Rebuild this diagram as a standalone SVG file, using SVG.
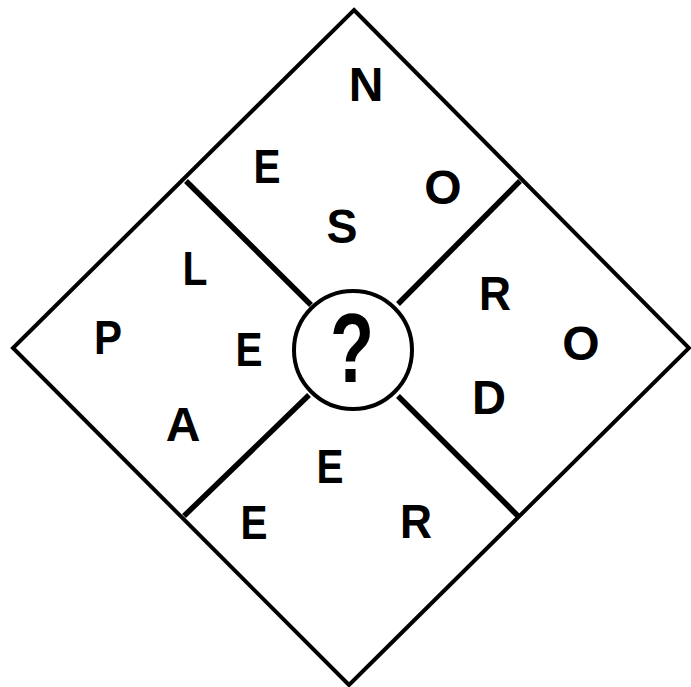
<svg xmlns="http://www.w3.org/2000/svg" width="691" height="687" viewBox="0 0 691 687">
<style>
.frame{fill:none;stroke:#000;stroke-width:4;stroke-linejoin:miter}
.div{stroke:#000;stroke-width:5.5;stroke-linecap:butt}
.ltr{font-family:"Liberation Sans",Arial,sans-serif;font-weight:bold;font-size:48px;fill:#000;text-anchor:middle}
.q{font-family:"Liberation Sans",Arial,sans-serif;font-weight:bold;font-size:98px;fill:#000;text-anchor:middle}
</style>
<rect width="691" height="687" fill="#fff"/>
<g id="frame">
<polygon class="frame" points="354,10 689,348 349,685 13,348"/>
</g>
<g id="connectors">
<line class="div" x1="186" y1="181" x2="311" y2="305"/>
<line class="div" x1="520" y1="181" x2="398" y2="304"/>
<line class="div" x1="184" y1="516" x2="309" y2="395"/>
<line class="div" x1="518" y1="516" x2="398" y2="396"/>
</g>
<g id="center">
<circle cx="353" cy="350" r="59" fill="#fff" stroke="#000" stroke-width="4"/>
<text class="q" x="352" y="382" textLength="44" lengthAdjust="spacingAndGlyphs">?</text>
</g>
<g id="top">
<text class="ltr" x="366" y="101">N</text>
<text class="ltr" x="267" y="183" textLength="27" lengthAdjust="spacingAndGlyphs">E</text>
<text class="ltr" x="443" y="204">O</text>
<text class="ltr" x="342" y="243" textLength="31" lengthAdjust="spacingAndGlyphs">S</text>
</g>
<g id="left">
<text class="ltr" x="195" y="285" textLength="25" lengthAdjust="spacingAndGlyphs">L</text>
<text class="ltr" x="108" y="354" textLength="28" lengthAdjust="spacingAndGlyphs">P</text>
<text class="ltr" x="249" y="366" textLength="27" lengthAdjust="spacingAndGlyphs">E</text>
<text class="ltr" x="183" y="441">A</text>
</g>
<g id="right">
<text class="ltr" x="495" y="310" textLength="32" lengthAdjust="spacingAndGlyphs">R</text>
<text class="ltr" x="581" y="360">O</text>
<text class="ltr" x="489" y="414" textLength="34" lengthAdjust="spacingAndGlyphs">D</text>
</g>
<g id="bottom">
<text class="ltr" x="330" y="483" textLength="27" lengthAdjust="spacingAndGlyphs">E</text>
<text class="ltr" x="254" y="539" textLength="27" lengthAdjust="spacingAndGlyphs">E</text>
<text class="ltr" x="416" y="538" textLength="32" lengthAdjust="spacingAndGlyphs">R</text>
</g>
</svg>
